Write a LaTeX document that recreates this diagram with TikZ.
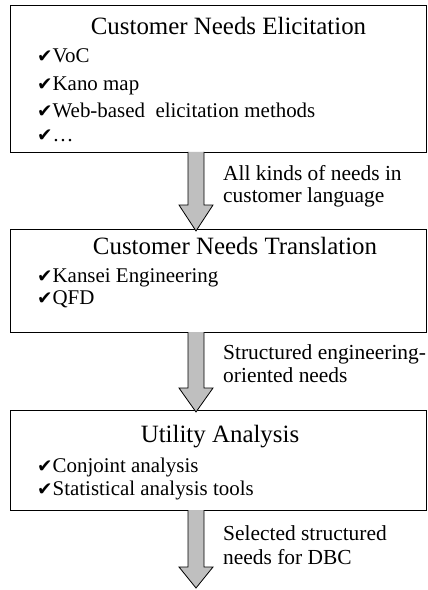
\documentclass[tikz,border=0pt]{standalone}
\usepackage{fontspec}
\setmainfont{Liberation Serif}
\newfontfamily\checkfont{DejaVu Sans}
\usetikzlibrary{calc}
\newcommand{\ck}{{\checkfont\fontsize{18.5}{18}\selectfont ✔}}
\tikzset{
  box/.style={draw=black, line width=0.9bp, fill=white},
  ttl/.style={font=\fontsize{25}{28}\selectfont, inner sep=0pt, anchor=base},
  itm/.style={font=\fontsize{21}{22}\selectfont, inner sep=0pt, anchor=base west},
  lbl/.style={font=\fontsize{21.5}{22}\selectfont, inner sep=0pt, anchor=base west},
  bigarrow/.style={draw=black, line width=0.8bp, fill=black!25},
}
\begin{document}
\begin{tikzpicture}[x=1bp,y=-1bp]
\useasboundingbox (0,0) rectangle (427,590);
% boxes
\draw[box] (10,5) rectangle (426,152);
\coordinate (b1s) at (196,152);
\coordinate (b2n) at (196,231);
\draw[box] (10,229) rectangle (426,332);
\coordinate (b2s) at (196,332);
\coordinate (b3n) at (196,412);
\draw[box] (10,410) rectangle (426,510);
\coordinate (b3s) at (196,510);
\coordinate (end) at (196,588);
% arrows
\foreach \s/\e/\h in {b1s/b2n/26, b2s/b3n/24, b3s/end/21}{
  \draw[bigarrow] ($(\s)+(-8,0)$) -- ($(\e)+(-8,-\h)$) -- ($(\e)+(-17,-\h)$) -- (\e)
    -- ($(\e)+(17,-\h)$) -- ($(\e)+(8,-\h)$) -- ($(\s)+(8,0)$);
}
% box 1
\node[ttl] (t1) at (228.5,35) {Customer Needs Elicitation};
\node[itm] (i11) at (37,63) {\ck VoC};
\node[itm] (i12) at (37,90.5) {\ck Kano map};
\node[itm] (i13) at (37,118) {\ck Web-based\ \ elicitation methods};
\node[itm] (i14) at (37,141.5) {\ck \dots};
% box 2
\node[ttl] (t2) at (235,254) {Customer Needs Translation};
\node[itm] (i21) at (37,282) {\ck Kansei Engineering};
\node[itm] (i22) at (37,304) {\ck QFD};
% box 3
\node[ttl] (t3) at (220,442) {Utility Analysis};
\node[itm] (i31) at (37,472) {\ck Conjoint analysis};
\node[itm] (i32) at (37,495) {\ck Statistical analysis tools};
% labels
\node[lbl] (l11) at (223,180) {All kinds of needs in};
\node[lbl] (l12) at (223,202) {customer language};
\node[lbl] (l21) at (223,359) {Structured engineering-};
\node[lbl] (l22) at (223,382) {oriented needs};
\node[lbl] (l31) at (223,540) {Selected structured};
\node[lbl] (l32) at (223,564) {needs for DBC};
\end{tikzpicture}
\end{document}
